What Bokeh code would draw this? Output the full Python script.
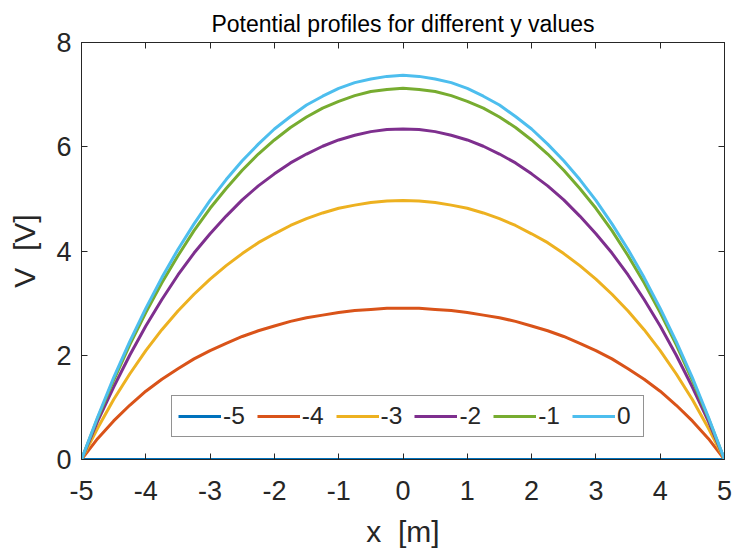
from bokeh.plotting import figure
from bokeh.models import Range1d, LinearAxis, Legend, LegendItem, FixedTicker
from bokeh.embed import file_html
from bokeh.resources import INLINE

# Positions along x [m] where the potential is sampled
x_m = [-5, -4.75, -4.5, -4.25, -4, -3.75, -3.5, -3.25, -3, -2.75, -2.5, -2.25, -2, -1.75,
       -1.5, -1.25, -1, -0.75, -0.5, -0.25, 0, 0.25, 0.5, 0.75, 1, 1.25, 1.5, 1.75, 2,
       2.25, 2.5, 2.75, 3, 3.25, 3.5, 3.75, 4, 4.25, 4.5, 4.75, 5]

# Potential V [V] along x for each y value
v_y_m5 = [0] * 41
v_y_m4 = [0, 0.40, 0.74, 1.04, 1.31, 1.54, 1.74, 1.93, 2.09, 2.23, 2.36, 2.47, 2.56, 2.65,
          2.72, 2.77, 2.82, 2.86, 2.88, 2.90, 2.90, 2.90, 2.88, 2.86, 2.82, 2.77, 2.72, 2.65,
          2.56, 2.47, 2.36, 2.23, 2.09, 1.93, 1.74, 1.54, 1.31, 1.04, 0.74, 0.40, 0]
v_y_m3 = [0, 0.60, 1.15, 1.64, 2.09, 2.49, 2.85, 3.17, 3.46, 3.72, 3.95, 4.16, 4.33, 4.49,
          4.62, 4.73, 4.82, 4.88, 4.93, 4.96, 4.97, 4.96, 4.93, 4.88, 4.82, 4.73, 4.62, 4.49,
          4.33, 4.16, 3.95, 3.72, 3.46, 3.17, 2.85, 2.49, 2.09, 1.64, 1.15, 0.60, 0]
v_y_m2 = [0, 0.73, 1.39, 2.00, 2.56, 3.07, 3.54, 3.96, 4.33, 4.67, 4.98, 5.25, 5.48, 5.69,
          5.86, 6.01, 6.13, 6.22, 6.29, 6.33, 6.34, 6.33, 6.29, 6.22, 6.13, 6.01, 5.86, 5.69,
          5.48, 5.25, 4.98, 4.67, 4.33, 3.96, 3.54, 3.07, 2.56, 2.00, 1.39, 0.73, 0]
v_y_m1 = [0, 0.79, 1.52, 2.20, 2.82, 3.39, 3.91, 4.39, 4.82, 5.20, 5.55, 5.86, 6.13, 6.37,
          6.57, 6.74, 6.87, 6.98, 7.06, 7.10, 7.12, 7.10, 7.06, 6.98, 6.87, 6.74, 6.57, 6.37,
          6.13, 5.86, 5.55, 5.20, 4.82, 4.39, 3.91, 3.39, 2.82, 2.20, 1.52, 0.79, 0]
v_y_0 = [0, 0.81, 1.57, 2.26, 2.90, 3.49, 4.03, 4.52, 4.97, 5.37, 5.73, 6.05, 6.34, 6.58,
         6.80, 6.97, 7.12, 7.23, 7.30, 7.35, 7.37, 7.35, 7.30, 7.23, 7.12, 6.97, 6.80, 6.58,
         6.34, 6.05, 5.73, 5.37, 4.97, 4.52, 4.03, 3.49, 2.90, 2.26, 1.57, 0.81, 0]

series_labels = ["-5", "-4", "-3", "-2", "-1", "0"]
series_values = [v_y_m5, v_y_m4, v_y_m3, v_y_m2, v_y_m1, v_y_0]
series_colors = ["#0072BD", "#D95319", "#EDB120", "#7E2F8E", "#77AC30", "#4DBEEE"]

x_ticks = [-5, -4, -3, -2, -1, 0, 1, 2, 3, 4, 5]
y_ticks = [0, 2, 4, 6, 8]

FONT = "Liberation Sans"
INK = "#262626"

p = figure(width=735, height=556,
           x_range=Range1d(-5, 5), y_range=Range1d(0, 8),
           output_backend="svg", toolbar_location=None,
           min_border_left=81, min_border_right=11,
           min_border_top=42, min_border_bottom=97,
           background_fill_color="white", border_fill_color="white")

p.grid.visible = False
p.outline_line_color = INK
p.outline_line_width = 1

p.title.text = "Potential profiles for different y values"
p.title.align = "center"
p.title.text_font = FONT
p.title.text_font_size = "23px"
p.title.text_font_style = "normal"
p.title.text_color = "black"
p.title.standoff = 12


def style_axis(ax, ticks):
    ax.ticker = FixedTicker(ticks=ticks)
    # plain hyphen for negative tick values
    ax.major_label_overrides = {t: str(t) for t in ticks}
    ax.major_tick_in = 6
    ax.major_tick_out = 0
    ax.minor_tick_line_color = None
    ax.axis_line_color = INK
    ax.major_tick_line_color = INK
    ax.major_label_text_color = INK
    ax.major_label_text_font = FONT
    ax.major_label_text_font_size = "27px"
    ax.axis_label_text_font = FONT
    ax.axis_label_text_font_size = "30px"
    ax.axis_label_text_font_style = "normal"
    ax.axis_label_text_color = INK


style_axis(p.xaxis[0], x_ticks)
p.xaxis[0].axis_label = "x\u00a0\u00a0[m]"
p.xaxis[0].major_label_standoff = 21
p.xaxis[0].axis_label_standoff = 12

style_axis(p.yaxis[0], y_ticks)
p.yaxis[0].axis_label = "V\u00a0\u00a0[V]"
p.yaxis[0].major_label_standoff = 10
p.yaxis[0].axis_label_standoff = 12

# Box ticks on the top and right edges, without labels
top_ax = LinearAxis()
style_axis(top_ax, x_ticks)
top_ax.major_label_text_color = None
top_ax.major_label_text_font_size = "1px"
top_ax.major_label_standoff = 0
p.add_layout(top_ax, "above")

right_ax = LinearAxis()
style_axis(right_ax, y_ticks)
right_ax.major_label_text_color = None
right_ax.major_label_text_font_size = "1px"
right_ax.major_label_standoff = 0
p.add_layout(right_ax, "right")

items = []
for lab, vals, col in zip(series_labels, series_values, series_colors):
    r = p.line(x_m, vals, line_color=col, line_width=3)
    items.append(LegendItem(label=lab, renderers=[r]))

legend = Legend(items=items, orientation="horizontal", location=(90, 22),
                border_line_color=INK, border_line_width=1,
                background_fill_color="white", background_fill_alpha=1,
                label_text_font=FONT, label_text_font_size="24.5px",
                label_text_color=INK,
                glyph_width=43, glyph_height=26, label_height=26, label_standoff=2,
                spacing=12, padding=6, margin=0)
p.add_layout(legend)

open("out.html", "w").write(file_html(p, INLINE))
